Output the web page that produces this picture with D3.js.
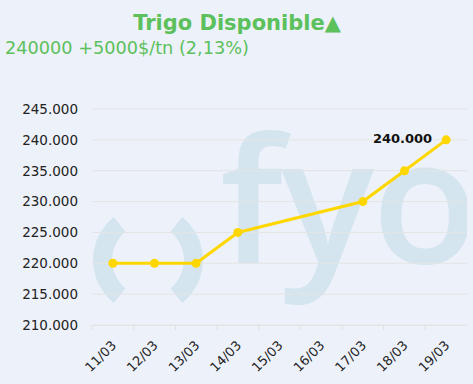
<!DOCTYPE html>
<html>
<head>
<meta charset="utf-8">
<script src="https://cdn.jsdelivr.net/npm/d3@7"></script>
<style>
  body { margin: 0; background: #edf1f9; }
  svg { display: block; font-family: Verdana, "DejaVu Sans", sans-serif; }
</style>
</head>
<body>
<svg id="chart" width="473" height="384"></svg>
<script>
// data
const days = ['11/03', '12/03', '13/03', '14/03', '15/03', '16/03', '17/03', '18/03', '19/03'];
const prices = [220000, 220000, 220000, 225000, null, null, 230000, 235000, 240000];
const yTicks = [210000, 215000, 220000, 225000, 230000, 235000, 240000, 245000];
const title = 'Trigo Disponible\u25B2';
const subtitle = '240000 +5000$/tn (2,13%)';

const W = 473, H = 384;
const margin = {top: 109, right: 6, bottom: 59, left: 92};
const width = W - margin.left - margin.right;
const height = H - margin.top - margin.bottom;

// 240000 -> "240.000"
const label = v => { const s = String(v); return s.slice(0, s.length - 3) + '.' + s.slice(-3); };

const svg = d3.select('#chart');
svg.append('rect').attr('width', W).attr('height', H).attr('fill', '#edf1f9');

svg.append('text')
  .attr('x', 237).attr('y', 30)
  .attr('text-anchor', 'middle')
  .attr('font-size', 21).attr('font-weight', 'bold')
  .attr('fill', '#5cc05c')
  .text(title);

svg.append('text')
  .attr('x', 5).attr('y', 54)
  .attr('font-size', 17.7)
  .attr('fill', '#5cc05c')
  .text(subtitle);

const g = svg.append('g').attr('transform', 'translate(' + margin.left + ',' + margin.top + ')');

// scales
const x = d3.scaleBand().domain(days).range([0, width]);
const y = d3.scaleLinear().domain([210000, 245000]).range([height, 0]);

// watermark, clipped to plot area
g.append('clipPath').attr('id', 'plotclip')
  .append('rect').attr('x', 0).attr('y', -20).attr('width', width).attr('height', height + 20);
const wm = g.append('g').attr('clip-path', 'url(#plotclip)').attr('fill', '#d4e5ef');
const arc = d3.arc().innerRadius(36).outerRadius(55);
const ang = 51.4 * Math.PI / 180;
wm.append('path')
  .attr('transform', 'translate(56,151)')
  .attr('d', arc({startAngle: 1.5 * Math.PI - ang, endAngle: 1.5 * Math.PI + ang}));
wm.append('path')
  .attr('transform', 'translate(56,151)')
  .attr('d', arc({startAngle: 0.5 * Math.PI - ang, endAngle: 0.5 * Math.PI + ang}));
wm.append('text')
  .attr('x', 128).attr('y', 154)
  .attr('font-family', '"Open Sans", sans-serif')
  .attr('font-weight', 600)
  .attr('font-size', 174)
  .attr('letter-spacing', -2)
  .text('fyo');

// gridlines
g.append('g')
  .selectAll('line')
  .data(yTicks)
  .join('line')
  .attr('x1', 0).attr('x2', width)
  .attr('y1', d => y(d)).attr('y2', d => y(d))
  .attr('stroke', '#e4e4e4').attr('stroke-width', 1);

// y axis labels
const yAxis = g.append('g')
  .call(d3.axisLeft(y).tickValues(yTicks).tickSize(0).tickPadding(14).tickFormat(label))
  .attr('font-family', null).attr('font-size', null);
yAxis.select('.domain').remove();
yAxis.selectAll('text').attr('font-size', 13.5).attr('fill', '#222');

// x axis
const xAxis = g.append('g')
  .attr('transform', 'translate(0,' + height + ')')
  .call(d3.axisBottom(x).tickSize(0).tickFormat(d => d))
  .attr('font-family', null).attr('font-size', null);
xAxis.select('.domain').attr('stroke', '#e4e4e4');
xAxis.selectAll('.tick text')
  .attr('font-size', 13).attr('fill', '#222')
  .attr('text-anchor', 'end')
  .attr('x', 0).attr('y', 0)
  .attr('dy', '0.35em')
  .attr('transform', 'translate(1,18) rotate(-45)');
// tick marks at band boundaries
g.append('g')
  .selectAll('line')
  .data(days)
  .join('line')
  .attr('x1', d => x(d)).attr('x2', d => x(d))
  .attr('y1', height).attr('y2', height + 5)
  .attr('stroke', '#e0e0e0');

// line
const pts = days.map((d, i) => ({day: d, v: prices[i]})).filter(p => p.v != null);
const cx = d => x(d.day) + x.bandwidth() / 2;
g.append('path')
  .datum(pts)
  .attr('fill', 'none')
  .attr('stroke', '#ffd700')
  .attr('stroke-width', 3)
  .attr('d', d3.line().x(cx).y(d => y(d.v)));

g.append('g')
  .selectAll('circle')
  .data(pts)
  .join('circle')
  .attr('cx', cx).attr('cy', d => y(d.v))
  .attr('r', 4.5)
  .attr('fill', '#ffd700');

const last = pts[pts.length - 1];
g.append('text')
  .attr('x', cx(last) - 14).attr('y', y(last.v) + 3)
  .attr('text-anchor', 'end')
  .attr('font-size', 13).attr('font-weight', 'bold')
  .attr('fill', '#111')
  .text(label(last.v));
</script>
</body>
</html>
